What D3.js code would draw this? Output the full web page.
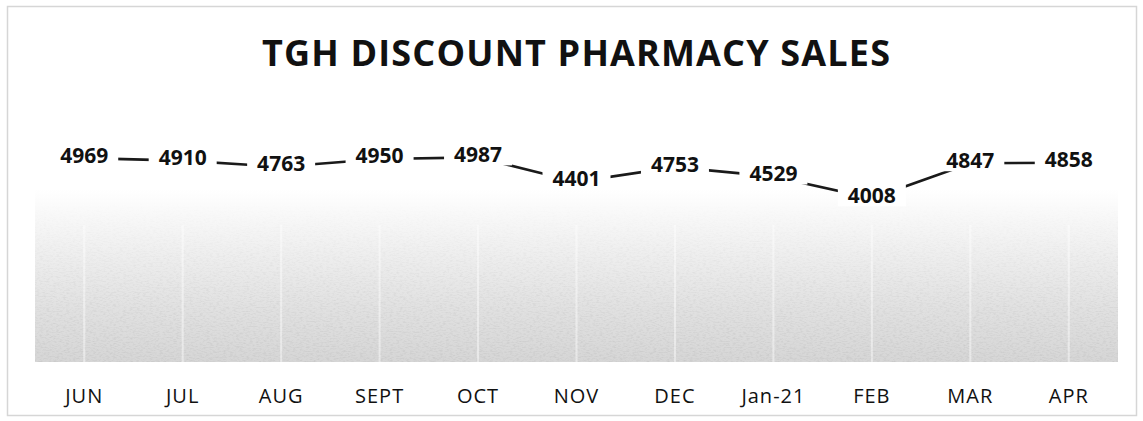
<!DOCTYPE html>
<meta charset="utf-8">
<head>
  <title>TGH Discount Pharmacy Sales</title>
</head>
<body style="margin:0;background:#fff">
<style>
.title { font: bold 36px "Open Sans", sans-serif; fill: #111; text-anchor: middle; }
.lbl text { font: bold 21px "Open Sans", sans-serif; fill: #111; text-anchor: middle; }
.axis text { font: 20px "Open Sans", sans-serif; fill: #111; text-anchor: middle; letter-spacing: 1px; }
</style>
<svg width="1143" height="421"></svg>
<script src="https://d3js.org/d3.v7.min.js"></script>
<script>

var months = ["JUN", "JUL", "AUG", "SEPT", "OCT", "NOV", "DEC", "Jan-21", "FEB", "MAR", "APR"];
var sales  = [4969, 4910, 4763, 4950, 4987, 4401, 4753, 4529, 4008, 4847, 4858];
var data = months.map(function(m, i) { return { month: m, value: sales[i] }; });

var svg = d3.select("svg");
var plot = { left: 35, right: 1118, top: 115, bottom: 366 };

var x = d3.scaleBand().domain(months).range([plot.left, plot.right]).paddingInner(0);
var y = d3.scaleLinear().domain([0, 6000]).range([plot.bottom, plot.top]);
function cx(d) { return x(d.month) + x.bandwidth() / 2; }

var defs = svg.append("defs");
var grad = defs.append("linearGradient").attr("id", "bg")
    .attr("x1", 0).attr("y1", 0).attr("x2", 0).attr("y2", 1);
grad.append("stop").attr("offset", "0").attr("stop-color", "#ffffff");
grad.append("stop").attr("offset", "0.3").attr("stop-color", "#ffffff");
grad.append("stop").attr("offset", "0.52").attr("stop-color", "#f1f1f1");
grad.append("stop").attr("offset", "0.78").attr("stop-color", "#e1e1e1");
grad.append("stop").attr("offset", "1").attr("stop-color", "#d6d6d6");

var mgrad = defs.append("linearGradient").attr("id", "mg")
    .attr("x1", 0).attr("y1", 0).attr("x2", 0).attr("y2", 1);
mgrad.append("stop").attr("offset", "0.35").attr("stop-color", "#000");
mgrad.append("stop").attr("offset", "1").attr("stop-color", "#fff");
defs.append("mask").attr("id", "noiseMask")
  .append("rect")
    .attr("x", plot.left).attr("y", plot.top)
    .attr("width", plot.right - plot.left).attr("height", plot.bottom - 4 - plot.top)
    .attr("fill", "url(#mg)");

var f = defs.append("filter").attr("id", "grain");
f.append("feTurbulence").attr("type", "fractalNoise").attr("baseFrequency", "0.3 0.8").attr("numOctaves", 2).attr("seed", 3);
f.append("feColorMatrix").attr("type", "matrix")
  .attr("values", "0 0 0 0 0.5  0 0 0 0 0.5  0 0 0 0 0.5  0 0 0 2.5 -1.1");

// frame
svg.append("rect")
    .attr("x", 7.5).attr("y", 6.5).attr("width", 1129).attr("height", 409)
    .attr("fill", "#fff").attr("stroke", "#d6d6d6").attr("stroke-width", 1.5);

// plot area background
svg.append("rect")
    .attr("x", plot.left).attr("y", plot.top)
    .attr("width", plot.right - plot.left).attr("height", plot.bottom - 4 - plot.top)
    .attr("fill", "url(#bg)");
svg.append("rect")
    .attr("x", plot.left).attr("y", plot.top)
    .attr("width", plot.right - plot.left).attr("height", plot.bottom - 4 - plot.top)
    .attr("filter", "url(#grain)").attr("mask", "url(#noiseMask)")
    .attr("opacity", 0.45);

// faint white gridlines
svg.append("g").selectAll("line")
  .data(data)
  .enter().append("line")
    .attr("x1", cx).attr("x2", cx)
    .attr("y1", plot.top + 110).attr("y2", plot.bottom - 4)
    .attr("stroke", "#fff").attr("stroke-width", 2).attr("opacity", 0.45);

svg.append("text").attr("class", "title")
    .attr("x", 576).attr("y", 66)
    .attr("textLength", 628).attr("lengthAdjust", "spacing")
    .text("TGH DISCOUNT PHARMACY SALES");

var line = d3.line().x(cx).y(function(d) { return y(d.value); });
svg.append("path")
    .datum(data)
    .attr("d", line)
    .attr("fill", "none")
    .attr("stroke", "#1a1a1a")
    .attr("stroke-width", 2.6);

var lbl = svg.append("g").attr("class", "lbl").selectAll("g")
  .data(data)
  .enter().append("g")
    .attr("transform", function(d) { return "translate(" + cx(d) + "," + y(d.value) + ")"; });

lbl.append("rect")
    .attr("x", -34).attr("y", -14).attr("width", 68).attr("height", 22)
    .attr("fill", "#fff");

lbl.append("text")
    .attr("y", 4.5)
    .text(function(d) { return d.value; });

svg.append("g").attr("class", "axis").selectAll("text")
  .data(data)
  .enter().append("text")
    .attr("x", cx).attr("y", 403)
    .text(function(d) { return d.month; });

</script>
</body>
